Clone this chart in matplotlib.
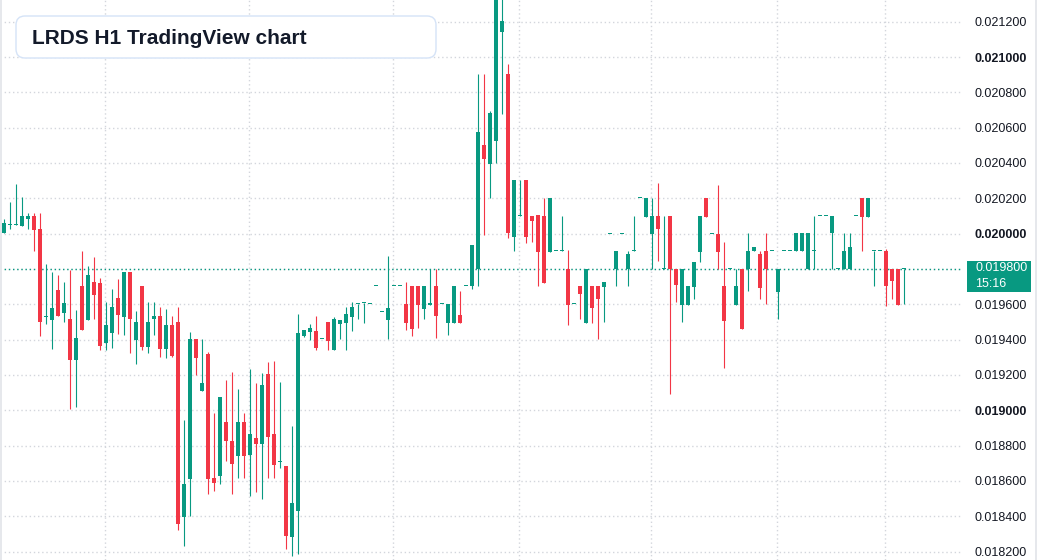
import matplotlib
matplotlib.use('Agg')
import matplotlib.pyplot as plt
from matplotlib.patches import FancyBboxPatch, Rectangle
from matplotlib.transforms import IdentityTransform
import numpy as np

plt.rcParams['font.family'] = ['Liberation Sans', 'DejaVu Sans']

# LRDS H1 candles, prices in millionths (0.0198 -> 19800)
opens = [20006, 20049, 20049, 20045, 20085, 20100, 20026, 19528, 19513, 19681,
         19553, 19517, 19287, 19704, 19513, 19726, 19721, 19383, 19440, 19636,
         19530, 19783, 19400, 19704, 19360, 19519, 19534, 19349, 19483, 19500,
         18398, 18613, 19404, 19111, 19319, 18617, 18630, 18934, 18826, 18743,
         18934, 18749, 18843, 18811, 19206, 18866, 18709, 18685, 18285, 18432,
         19421, 19443, 19449, 19404, 19500, 19341, 19489, 19494, 19528, 19602,
         19608, 19602, 19704, 19557, 19511, 19704, 19704, 19602, 19704, 19704,
         19574, 19596, 19704, 19602, 19494, 19494, 19540, 19704, 19702, 19798,
         20502, 20396, 20526, 21143, 20904, 19983, 20098, 20304, 20100, 20106,
         20100, 19898, 19900, 19900, 19798, 19600, 19704, 19496, 19704, 19704,
         19700, 20000, 19798, 20000, 19798, 19902, 20200, 20096, 20000, 20100,
         19798, 20100, 19798, 19598, 19598, 19700, 19898, 20200, 20000, 20000,
         19704, 19798, 19598, 19798, 19798, 19902, 19885, 19902, 19902, 19672,
         19902, 19902, 19902, 19902, 19798, 19902, 20100, 20100, 20002, 19802,
         19798, 19798, 20100, 20200, 20096, 19902, 19902, 19902, 19798, 19798,
         19798]
highs = [20083, 20179, 20281, 20208, 20119, 20119, 20119, 19828, 19783, 19766,
         19726, 19794, 19568, 19902, 19817, 19868, 19749, 19613, 19687, 19743,
         19783, 19783, 19562, 19704, 19613, 19613, 19585, 19574, 19534, 19585,
         18945, 19443, 19404, 19404, 19330, 18985, 19075, 19174, 19217, 19121,
         18985, 19234, 19155, 19211, 19274, 19279, 19160, 18685, 18911, 19545,
         19455, 19489, 19534, 19404, 19500, 19528, 19511, 19585, 19613, 19602,
         19608, 19602, 19704, 19557, 19874, 19704, 19704, 19726, 19704, 19704,
         19704, 19800, 19800, 19602, 19602, 19704, 19675, 19704, 19936, 20904,
         20904, 20694, 21340, 21340, 20960, 20304, 20304, 20304, 20100, 20106,
         20202, 20202, 19900, 20100, 19908, 19600, 19704, 19798, 19704, 19704,
         19726, 20000, 19902, 20000, 19902, 20100, 20200, 20200, 20200, 20285,
         20100, 20100, 19798, 19798, 19704, 19840, 20100, 20200, 20000, 20275,
         19953, 19798, 19798, 19798, 20002, 19925, 19902, 20002, 19902, 19798,
         19902, 19902, 20002, 20002, 20002, 20100, 20100, 20100, 20100, 19802,
         20002, 20002, 20100, 20200, 20200, 19902, 19902, 19911, 19798, 19798,
         19798]
lows = [20006, 20028, 20049, 20045, 20028, 19904, 19423, 19490, 19349, 19536,
        19500, 19009, 19019, 19457, 19513, 19519, 19343, 19343, 19355, 19434,
        19428, 19326, 19264, 19343, 19326, 19428, 19304, 19298, 19304, 18324,
        18234, 18404, 19200, 19111, 18528, 18545, 18585, 18715, 18528, 18619,
        18619, 18517, 18540, 18500, 18619, 18619, 18675, 18217, 18177, 18189,
        19415, 19398, 19341, 19404, 19341, 19341, 19404, 19341, 19449, 19517,
        19494, 19602, 19704, 19557, 19404, 19704, 19704, 19455, 19421, 19466,
        19517, 19596, 19409, 19602, 19426, 19494, 19494, 19704, 19685, 19706,
        19990, 20204, 20402, 20675, 19977, 19904, 20098, 19949, 19955, 19706,
        19723, 19898, 19900, 19900, 19485, 19600, 19519, 19496, 19496, 19406,
        19502, 20000, 19706, 20000, 19706, 19902, 20200, 20096, 19798, 19847,
        19798, 19090, 19615, 19502, 19598, 19632, 19840, 20096, 20000, 19798,
        19241, 19798, 19598, 19462, 19675, 19902, 19632, 19602, 19902, 19519,
        19902, 19902, 19902, 19902, 19798, 19798, 20100, 20100, 19798, 19802,
        19798, 19798, 20100, 19904, 20096, 19704, 19902, 19590, 19632, 19598,
        19602]
closes = [20058, 20049, 20049, 20100, 20100, 20023, 19502, 19528, 19579, 19536,
          19607, 19287, 19409, 19457, 19766, 19655, 19366, 19483, 19585, 19541,
          19783, 19519, 19500, 19360, 19500, 19534, 19349, 19483, 19309, 18358,
          18583, 19404, 19298, 19155, 18613, 18590, 19075, 18828, 18698, 18934,
          18743, 18866, 18811, 19143, 18851, 18692, 18709, 18290, 18477, 19438,
          19455, 19466, 19353, 19404, 19394, 19517, 19511, 19545, 19585, 19602,
          19608, 19602, 19704, 19557, 19579, 19704, 19704, 19494, 19460, 19596,
          19704, 19608, 19534, 19602, 19602, 19704, 19494, 19704, 19936, 20575,
          20424, 20683, 21340, 21202, 20006, 20304, 20098, 19983, 20073, 19898,
          19723, 20202, 19900, 19900, 19598, 19600, 19660, 19798, 19581, 19632,
          19726, 20000, 19902, 20000, 19885, 19902, 20200, 20200, 20100, 20028,
          19798, 19798, 19711, 19798, 19704, 19840, 20100, 20096, 20000, 19898,
          19507, 19798, 19704, 19462, 19902, 19925, 19694, 19798, 19902, 19798,
          19902, 19902, 20002, 20002, 20002, 19902, 20100, 20100, 20100, 19802,
          19902, 19925, 20100, 20096, 20200, 19902, 19902, 19704, 19734, 19598,
          19798]

price_ticks = [0.0182, 0.0184, 0.0186, 0.0188, 0.0190, 0.0192, 0.0194, 0.0196,
               0.0198, 0.0200, 0.0202, 0.0204, 0.0206, 0.0208, 0.0210, 0.0212]
bold_ticks = [0.0190, 0.0200, 0.0210]
time_grid = [16.8, 40.8, 64.8, 85.8, 107.8, 128.8, 146.8]
last_price = 0.0198
countdown = '15:16'
title = 'LRDS H1 TradingView chart'

green = '#089981'
red = '#F23645'
grid_col = '#d3d6dc'

o = np.array(opens) / 1e6
h = np.array(highs) / 1e6
l = np.array(lows) / 1e6
c = np.array(closes) / 1e6
x = np.arange(len(o))
cols = [green if cc >= oo else red for oo, cc in zip(o, c)]

W, H = 1037, 560
fig = plt.figure(figsize=(W / 100, H / 100), dpi=100)
fig.patch.set_facecolor('white')
ax = fig.add_axes([0, 0, 963 / W, 1])
ax.set_xlim(-0.667, 159.83)
ax.set_ylim(0.0181524, 0.0213228)
for s in ax.spines.values():
    s.set_visible(False)

# grid
for p in price_ticks:
    ax.axhline(p, color=grid_col, lw=1, ls=(0, (1, 2)), zorder=0)
for g in time_grid:
    ax.axvline(g, color=grid_col, lw=1, ls=(0, (1, 2)), zorder=0)

# candles
min_h = 0.001 / 176.65
ax.vlines(x, l, h, colors=cols, lw=0.8, zorder=2)
bot = np.minimum(o, c)
hgt = np.maximum(np.abs(c - o), min_h)
ax.bar(x, hgt, 0.78, bot, color=cols, lw=0, zorder=3)

# last price line
ax.axhline(last_price, color=green, lw=1, ls=(0, (1, 2)), zorder=1)

# price scale on the right (the last-price label is covered by the badge)
ax.set_xticks([])
ax.yaxis.tick_right()
ax.set_yticks(price_ticks)
ax.set_yticklabels(['' if abs(p - last_price) < 1e-9 else '%.6f' % p
                    for p in price_ticks])
ax.tick_params(axis='y', length=0, pad=8.6, labelsize=9, labelcolor='#131722')
for lab, p in zip(ax.get_yticklabels(), price_ticks):
    if any(abs(p - b) < 1e-9 for b in bold_ticks):
        lab.set_fontweight('bold')

# last price badge
fig.add_artist(Rectangle((967, H - 292), 64, 31, transform=IdentityTransform(),
                         fc=green, ec='none', zorder=5))
fig.text(975 / W, 1 - 268 / H, '%.6f' % last_price, color='white', fontsize=9,
         va='center', ha='left', zorder=6)
fig.text(975 / W, 1 - 284 / H, countdown, color='white', fontsize=9,
         va='center', ha='left', zorder=6)

# borders
fig.add_artist(Rectangle((0, 0), 2, H, transform=IdentityTransform(),
                         fc='#e6e8ec', ec='none', zorder=5))
fig.add_artist(Rectangle((W - 2, 0), 2, H, transform=IdentityTransform(),
                         fc='#e6e8ec', ec='none', zorder=5))

# title box
fig.add_artist(FancyBboxPatch((16, H - 58), 420, 42,
                              boxstyle='round,pad=0,rounding_size=9',
                              transform=IdentityTransform(),
                              fc='white', ec='#d5e3f7', lw=1, zorder=5))
fig.text(32 / W, 1 - 44.5 / H, title, fontsize=15, fontweight='bold',
         color='#131a2a', va='baseline', ha='left', zorder=6)

fig.savefig('out.png', dpi=100)
